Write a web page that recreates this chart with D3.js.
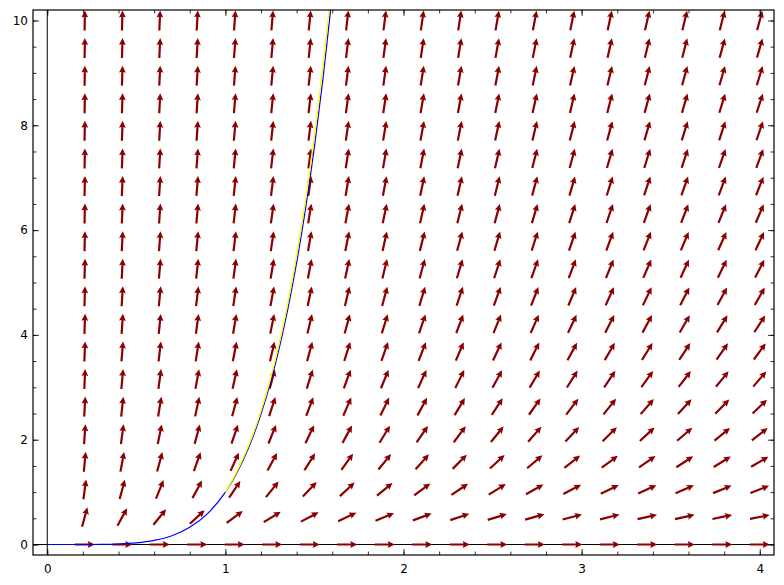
<!DOCTYPE html>
<html>
<head>
<meta charset="utf-8">
<script src="https://cdn.jsdelivr.net/npm/d3@7"></script>
<style>
body { margin: 0; background: #fff; }
svg { display: block; }
.tick text { font-family: "DejaVu Sans", sans-serif; font-size: 12px; fill: #000; }
</style>
</head>
<body>
<div id="chart"></div>
<script>
// grid of the slope field (x = 0 column has no arrows)
var xGrid = [0.2105, 0.4211, 0.6316, 0.8421, 1.0526, 1.2632, 1.4737, 1.6842, 1.8947, 2.1053,
             2.3158, 2.5263, 2.7368, 2.9474, 3.1579, 3.3684, 3.5789, 3.7895, 4.0];
var yGrid = [0, 0.526, 1.053, 1.579, 2.105, 2.632, 3.158, 3.684, 4.211, 4.737,
             5.263, 5.789, 6.316, 6.842, 7.368, 7.895, 8.421, 8.947, 9.474, 10];
// slope per unit of y, one value per column
var colGain = [23.75, 11.875, 7.917, 5.938, 4.75, 3.958, 3.393, 2.969, 2.639, 2.375,
               2.159, 1.979, 1.827, 1.696, 1.583, 1.484, 1.397, 1.319, 1.25];

// blue solution curve
var curveX = [0, 0.1, 0.2, 0.3, 0.4, 0.5, 0.6, 0.7, 0.8, 0.9, 1.0, 1.05, 1.1, 1.15,
              1.2, 1.25, 1.3, 1.35, 1.4, 1.45, 1.5, 1.55, 1.6];
var curveY = [0, 0, 0, 0.002, 0.010, 0.031, 0.078, 0.168, 0.328, 0.590, 1.0, 1.276, 1.611, 2.011,
              2.488, 3.052, 3.713, 4.484, 5.378, 6.410, 7.594, 8.947, 10.486];
// yellow curve
var yellowX = [1.0, 1.05, 1.1, 1.15, 1.2, 1.25, 1.3, 1.35, 1.4, 1.45, 1.5, 1.55, 1.6];
var yellowY = [1.0, 1.30, 1.65, 2.06, 2.55, 3.13, 3.81, 4.60, 5.52, 6.58, 7.80, 9.19, 10.77];

var xMajor = [0, 1, 2, 3, 4];
var yMajor = [0, 2, 4, 6, 8, 10];

drawField();

function drawField() {
    var margin = {top: 10, right: 10, bottom: 30, left: 33},
        width = 741,
        height = 545;

    var xScale = d3.scaleLinear().domain([-0.08, 4.08]).range([0, width]);
    var yScale = d3.scaleLinear().domain([-0.2, 10.2]).range([height, 0]);

    var svg = d3.select("#chart").append("svg")
        .attr("width", 784)
        .attr("height", 585)
        .append("g")
        .attr("transform", "translate(" + margin.left + "," + margin.top + ")");

    svg.append("clipPath").attr("id", "clip")
        .append("rect").attr("width", width).attr("height", height);

    // axis lines through zero
    svg.append("line")
        .attr("x1", 0).attr("x2", width)
        .attr("y1", yScale(0)).attr("y2", yScale(0))
        .attr("stroke", "black").attr("stroke-width", 1);
    svg.append("line")
        .attr("x1", xScale(0)).attr("x2", xScale(0))
        .attr("y1", 0).attr("y2", height)
        .attr("stroke", "black").attr("stroke-width", 1);

    // arrows
    var L = 20, sw = 1.1, hw = 3.4, hl = 7, ha = 6.2;
    var arrowPath = "M" + (-L / 2) + "," + (-sw) +
        "L" + (L / 2 - ha) + "," + (-sw) +
        "L" + (L / 2 - hl) + "," + (-hw) +
        "L" + (L / 2) + ",0" +
        "L" + (L / 2 - hl) + "," + hw +
        "L" + (L / 2 - ha) + "," + sw +
        "L" + (-L / 2) + "," + sw + "Z";

    var cells = [];
    xGrid.forEach(function(x, i) {
        yGrid.forEach(function(y) {
            cells.push({x: x, y: y, s: colGain[i] * y});
        });
    });

    svg.append("g")
        .attr("clip-path", "url(#clip)")
        .selectAll("path")
        .data(cells)
        .enter().append("path")
        .attr("d", arrowPath)
        .attr("fill", "#8b0000")
        .attr("transform", function(d) {
            var n = Math.sqrt(1 + d.s * d.s);
            var u = 1 / n, v = d.s / n, h = 0.01;
            var dx = xScale(d.x + u * h) - xScale(d.x);
            var dy = yScale(d.y + v * h) - yScale(d.y);
            var a = Math.atan2(dy, dx) * 180 / Math.PI;
            return "translate(" + xScale(d.x) + "," + yScale(d.y) + ") rotate(" + a + ")";
        });

    var line = d3.line()
        .x(function(d) { return xScale(d[0]); })
        .y(function(d) { return yScale(d[1]); })
        .curve(d3.curveMonotoneX);

    svg.append("path")
        .datum(d3.zip(curveX, curveY))
        .attr("clip-path", "url(#clip)")
        .attr("fill", "none")
        .attr("stroke", "#0000ff")
        .attr("stroke-width", 1.2)
        .attr("d", line);

    svg.append("path")
        .datum(d3.zip(yellowX, yellowY))
        .attr("clip-path", "url(#clip)")
        .attr("fill", "none")
        .attr("stroke", "#ffff00")
        .attr("stroke-width", 1.4)
        .attr("d", line);

    // frame ticks
    var xMinor = d3.range(0, 4.01, 0.2);
    var yMinor = d3.range(0, 10.01, 0.5);

    function ticks(axis, vals, size, fmt, transform) {
        var g = svg.append("g")
            .attr("transform", transform)
            .call(axis.tickValues(vals).tickSize(-size).tickPadding(fmt ? 5 : 0)
                .tickFormat(fmt ? d3.format("d") : ""));
        g.select(".domain").remove();
        g.selectAll(".tick line").attr("stroke-width", 0.8);
        return g;
    }

    ticks(d3.axisLeft(yScale), yMinor, 3.5, false, null);
    ticks(d3.axisLeft(yScale), yMajor, 6, true, null);
    ticks(d3.axisRight(yScale), yMinor, 3.5, false, "translate(" + width + ",0)");
    ticks(d3.axisRight(yScale), yMajor, 6, false, "translate(" + width + ",0)");

    ticks(d3.axisTop(xScale), xMinor, 3.5, false, null);
    ticks(d3.axisTop(xScale), xMajor, 6, false, null);
    ticks(d3.axisBottom(xScale), xMinor, 3.5, false, "translate(0," + height + ")");
    var xb = ticks(d3.axisBottom(xScale), xMajor, 6, true, "translate(0," + height + ")");
    xb.call(d3.axisBottom(xScale).tickValues(xMajor).tickSize(-6).tickPadding(9.5).tickFormat(d3.format("d")));
    xb.select(".domain").remove();
    xb.selectAll(".tick line").attr("stroke-width", 0.8);

    // frame
    svg.append("rect")
        .attr("x", 0).attr("y", 0)
        .attr("width", width).attr("height", height)
        .attr("fill", "none")
        .attr("stroke", "black")
        .attr("stroke-width", 1.2);
}
</script>
</body>
</html>
